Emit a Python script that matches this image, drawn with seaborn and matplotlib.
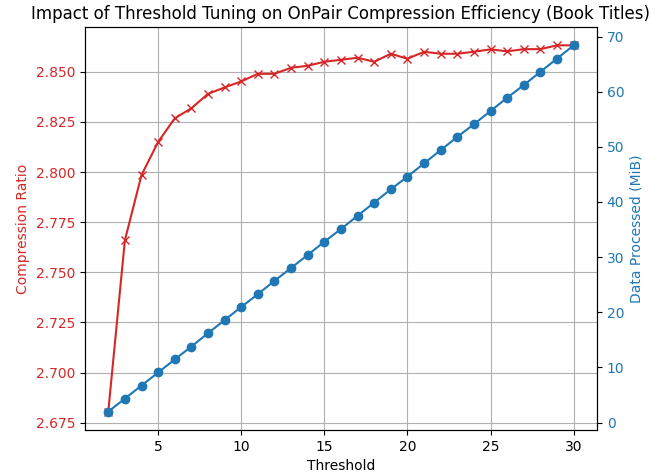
import matplotlib
matplotlib.use("Agg")
import matplotlib.pyplot as plt
import seaborn as sns
import pandas as pd

thresholds = list(range(2, 31))
compression_ratio = [2.6805, 2.766, 2.7985, 2.815, 2.8268, 2.8318, 2.839, 2.8422, 2.8452,
                     2.849, 2.849, 2.852, 2.853, 2.855, 2.856, 2.857, 2.855, 2.859, 2.8565,
                     2.860, 2.859, 2.859, 2.860, 2.8612, 2.8602, 2.8613, 2.8613, 2.8632, 2.8632]
data_mib = [2.0, 4.36, 6.73, 9.09, 11.45, 13.8, 16.2, 18.6, 20.96, 23.3, 25.7, 28.05, 30.4,
            32.8, 35.1, 37.5, 39.9, 42.3, 44.6, 47.0, 49.4, 51.8, 54.1, 56.5, 58.9, 61.2,
            63.6, 66.0, 68.4]

df = pd.DataFrame({"Threshold": thresholds, "ratio": compression_ratio, "mib": data_mib})

red = "#d62728"
blue = "#1f77b4"

fig, ax = plt.subplots(figsize=(6.64, 4.74), dpi=100)
fig.subplots_adjust(left=0.128, right=0.899, top=0.943, bottom=0.093)

sns.lineplot(data=df, x="Threshold", y="ratio", ax=ax, color=red, marker="x",
             markersize=6, markeredgecolor=red, markeredgewidth=1.0, linewidth=1.5)
ax.set_xlabel("Threshold")
ax.set_ylabel("Compression Ratio", color=red)
ax.tick_params(axis="y", labelcolor=red)
ax.grid(True, color="#b0b0b0", linewidth=0.8)
ax.set_xticks([5, 10, 15, 20, 25, 30])

ax2 = ax.twinx()
sns.lineplot(data=df, x="Threshold", y="mib", ax=ax2, color=blue, marker="o",
             markersize=6, markeredgecolor=blue, markeredgewidth=1.0, linewidth=1.5)
ax2.set_ylabel("Data Processed (MiB)", color=blue)
ax2.tick_params(axis="y", labelcolor=blue)
ax2.set_xlabel("Threshold")

ax.set_title("Impact of Threshold Tuning on OnPair Compression Efficiency (Book Titles)")

fig.savefig("out.png", dpi=100)
